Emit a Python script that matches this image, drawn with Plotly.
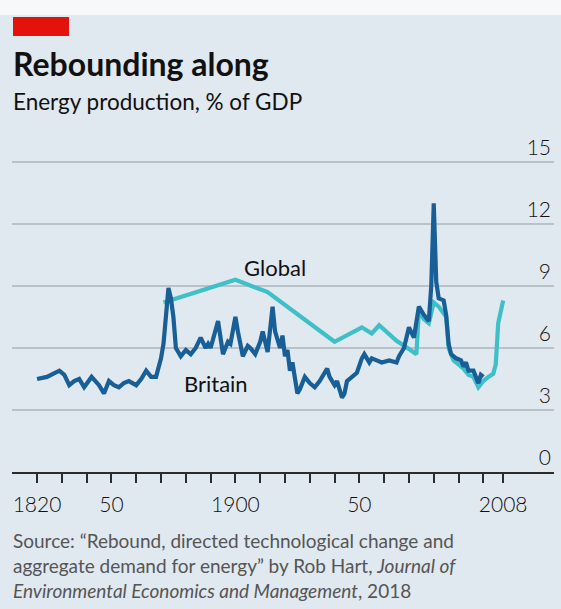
import plotly.graph_objects as go

# ---------------- data ----------------
britain_years = [1820, 1824, 1829, 1831, 1833, 1835, 1837, 1839, 1842, 1845, 1847, 1849,
                 1851, 1853, 1855, 1857, 1860, 1862, 1864, 1866, 1868, 1870, 1871, 1873,
                 1874, 1875, 1876, 1878, 1880, 1882, 1884, 1886, 1888, 1889, 1890, 1891,
                 1893, 1895, 1897, 1898, 1900, 1901, 1903, 1905, 1906, 1908, 1910, 1911,
                 1913, 1915, 1916, 1918, 1919, 1920, 1921, 1922, 1923, 1925, 1926, 1928,
                 1930, 1932, 1934, 1937, 1938, 1940, 1941, 1943, 1944, 1945, 1947, 1949,
                 1951, 1952, 1954, 1955, 1957, 1959, 1962, 1965, 1966, 1968, 1970, 1972,
                 1974, 1976, 1978, 1979, 1980, 1981, 1982, 1984, 1985, 1986, 1987, 1989,
                 1991, 1992, 1993, 1994, 1996, 1997, 1998, 1999, 2000]
britain_values = [4.5, 4.6, 4.9, 4.7, 4.2, 4.4, 4.5, 4.1, 4.6, 4.2, 3.8, 4.4,
                  4.2, 4.1, 4.3, 4.4, 4.2, 4.5, 4.9, 4.6, 4.6, 5.5, 6.2, 8.9,
                  8.4, 7.5, 6.0, 5.6, 5.9, 5.7, 6.0, 6.5, 6.0, 6.2, 6.0, 6.4,
                  7.3, 5.7, 6.3, 6.2, 7.5, 6.8, 5.6, 6.1, 6.0, 5.7, 6.3, 6.8,
                  5.8, 8.0, 6.8, 6.0, 6.6, 5.6, 5.9, 4.9, 5.3, 3.8, 4.0, 4.6,
                  4.3, 4.1, 4.4, 5.0, 4.6, 4.2, 4.4, 3.6, 3.8, 4.4, 4.6, 4.8,
                  5.5, 5.7, 5.3, 5.5, 5.4, 5.3, 5.4, 5.3, 5.6, 6.0, 7.0, 6.5,
                  8.0, 7.6, 7.3, 9.0, 13.0, 9.2, 8.4, 8.3, 7.6, 6.2, 5.7, 5.5,
                  5.4, 5.1, 5.3, 4.9, 4.9, 4.6, 4.3, 4.7, 4.6]

global_years = [1871, 1900, 1913, 1940, 1951, 1955, 1958, 1965, 1970, 1973, 1974, 1976,
                1978, 1980, 1982, 1985, 1986, 1988, 1990, 1992, 1994, 1996, 1998, 2000,
                2002, 2004, 2005, 2006, 2008]
global_values = [8.2, 9.3, 8.7, 6.3, 7.0, 6.7, 7.1, 6.35, 5.95, 5.7, 7.8, 7.4,
                 7.2, 8.2, 8.0, 7.5, 6.0, 5.4, 5.2, 5.0, 4.7, 4.6, 4.1, 4.4,
                 4.6, 4.75, 5.2, 7.2, 8.3]

x_tick_vals = [1820, 1830, 1840, 1850, 1860, 1870, 1880, 1890, 1900, 1910, 1920, 1930,
               1940, 1950, 1960, 1970, 1980, 1990, 2000, 2008]
x_tick_text = ["1820", "", "", "50", "", "", "", "", "1900", "", "", "",
               "", "50", "", "", "", "", "", "2008"]
y_tick_vals = [0, 3, 6, 9, 12, 15]

# ---------------- styling ----------------
W, H = 561, 609
ML, MR, MT, MB = 12, 7, 133, 137
PLOT_H = H - MT - MB
PLOT_W = W - ML - MR
BG = "#e0e8f0"
FONT = "Lato"
INK = "#111111"


def py(p):
    """pixel row -> paper y"""
    return (H - MB - p) / PLOT_H


def px(p):
    """pixel column -> paper x"""
    return (p - ML) / PLOT_W


fig = go.Figure()
fig.add_trace(go.Scatter(x=global_years, y=global_values, mode="lines",
                         line=dict(color="#3fbfc7", width=4.2), hoverinfo="skip"))
fig.add_trace(go.Scatter(x=britain_years, y=britain_values, mode="lines",
                         line=dict(color="#175f96", width=4.2), hoverinfo="skip"))


def note(text, x, y, size, color=INK, xanchor="left"):
    return dict(text=text, x=x, y=y, xref="paper", yref="paper",
                xanchor=xanchor, yanchor="middle", showarrow=False,
                font=dict(family=FONT, size=size, color=color))


annotations = [
    note("<b>Rebounding along</b>", px(11), py(64), 32),
    note("Energy production, % of GDP", px(11), py(101), 22.5),
    note("Source: “Rebound, directed technological change and", px(11), py(540), 19, "#555555"),
    note("aggregate demand for energy” by Rob Hart, <i>Journal of</i>", px(11), py(565), 19, "#555555"),
    note("<i>Environmental Economics and Management</i>, 2018", px(11), py(590), 19, "#555555"),
    dict(text="Global", x=1916, y=9.9, xref="x", yref="y", showarrow=False,
         xanchor="center", yanchor="middle", font=dict(family=FONT, size=22, color=INK)),
    dict(text="Britain", x=1892, y=4.3, xref="x", yref="y", showarrow=False,
         xanchor="center", yanchor="middle", font=dict(family=FONT, size=22, color=INK)),
]

shapes = [
    dict(type="rect", xref="paper", yref="paper", x0=px(0), x1=px(W), y0=py(15), y1=py(0),
         fillcolor="#f6f8fa", line=dict(width=0), layer="below"),
    dict(type="rect", xref="paper", yref="paper", x0=px(13), x1=px(69), y0=py(36), y1=py(17),
         fillcolor="#e3120b", line=dict(width=0), layer="above"),
]

fig.update_layout(
    width=W, height=H,
    margin=dict(l=ML, r=MR, t=MT, b=MB, pad=0),
    paper_bgcolor=BG, plot_bgcolor=BG,
    showlegend=False,
    font=dict(family=FONT, color=INK),
    annotations=annotations,
    shapes=shapes,
    xaxis=dict(range=[1809.9, 2028.5], tickvals=x_tick_vals, ticktext=x_tick_text,
               showgrid=False, zeroline=False, showline=True, linecolor="#2b2b2b", linewidth=2,
               ticks="outside", ticklen=9, tickwidth=1.5, tickcolor="#2b2b2b",
               tickfont=dict(family=FONT, size=21, color=INK, weight=300),
               ticklabelstandoff=4, automargin=False, fixedrange=True),
    yaxis=dict(range=[0, 16.4], tickvals=y_tick_vals, side="right",
               showgrid=True, gridcolor="#b9c1c9", gridwidth=1.5, zeroline=False,
               showline=False, ticks="", ticklabelposition="inside top",
               tickfont=dict(family=FONT, size=21, color=INK, weight=300),
               automargin=False, fixedrange=True),
)

fig.write_html("out.html", config={"displayModeBar": False},
               post_script="document.body.style.margin='0';document.body.style.overflow='hidden';")
